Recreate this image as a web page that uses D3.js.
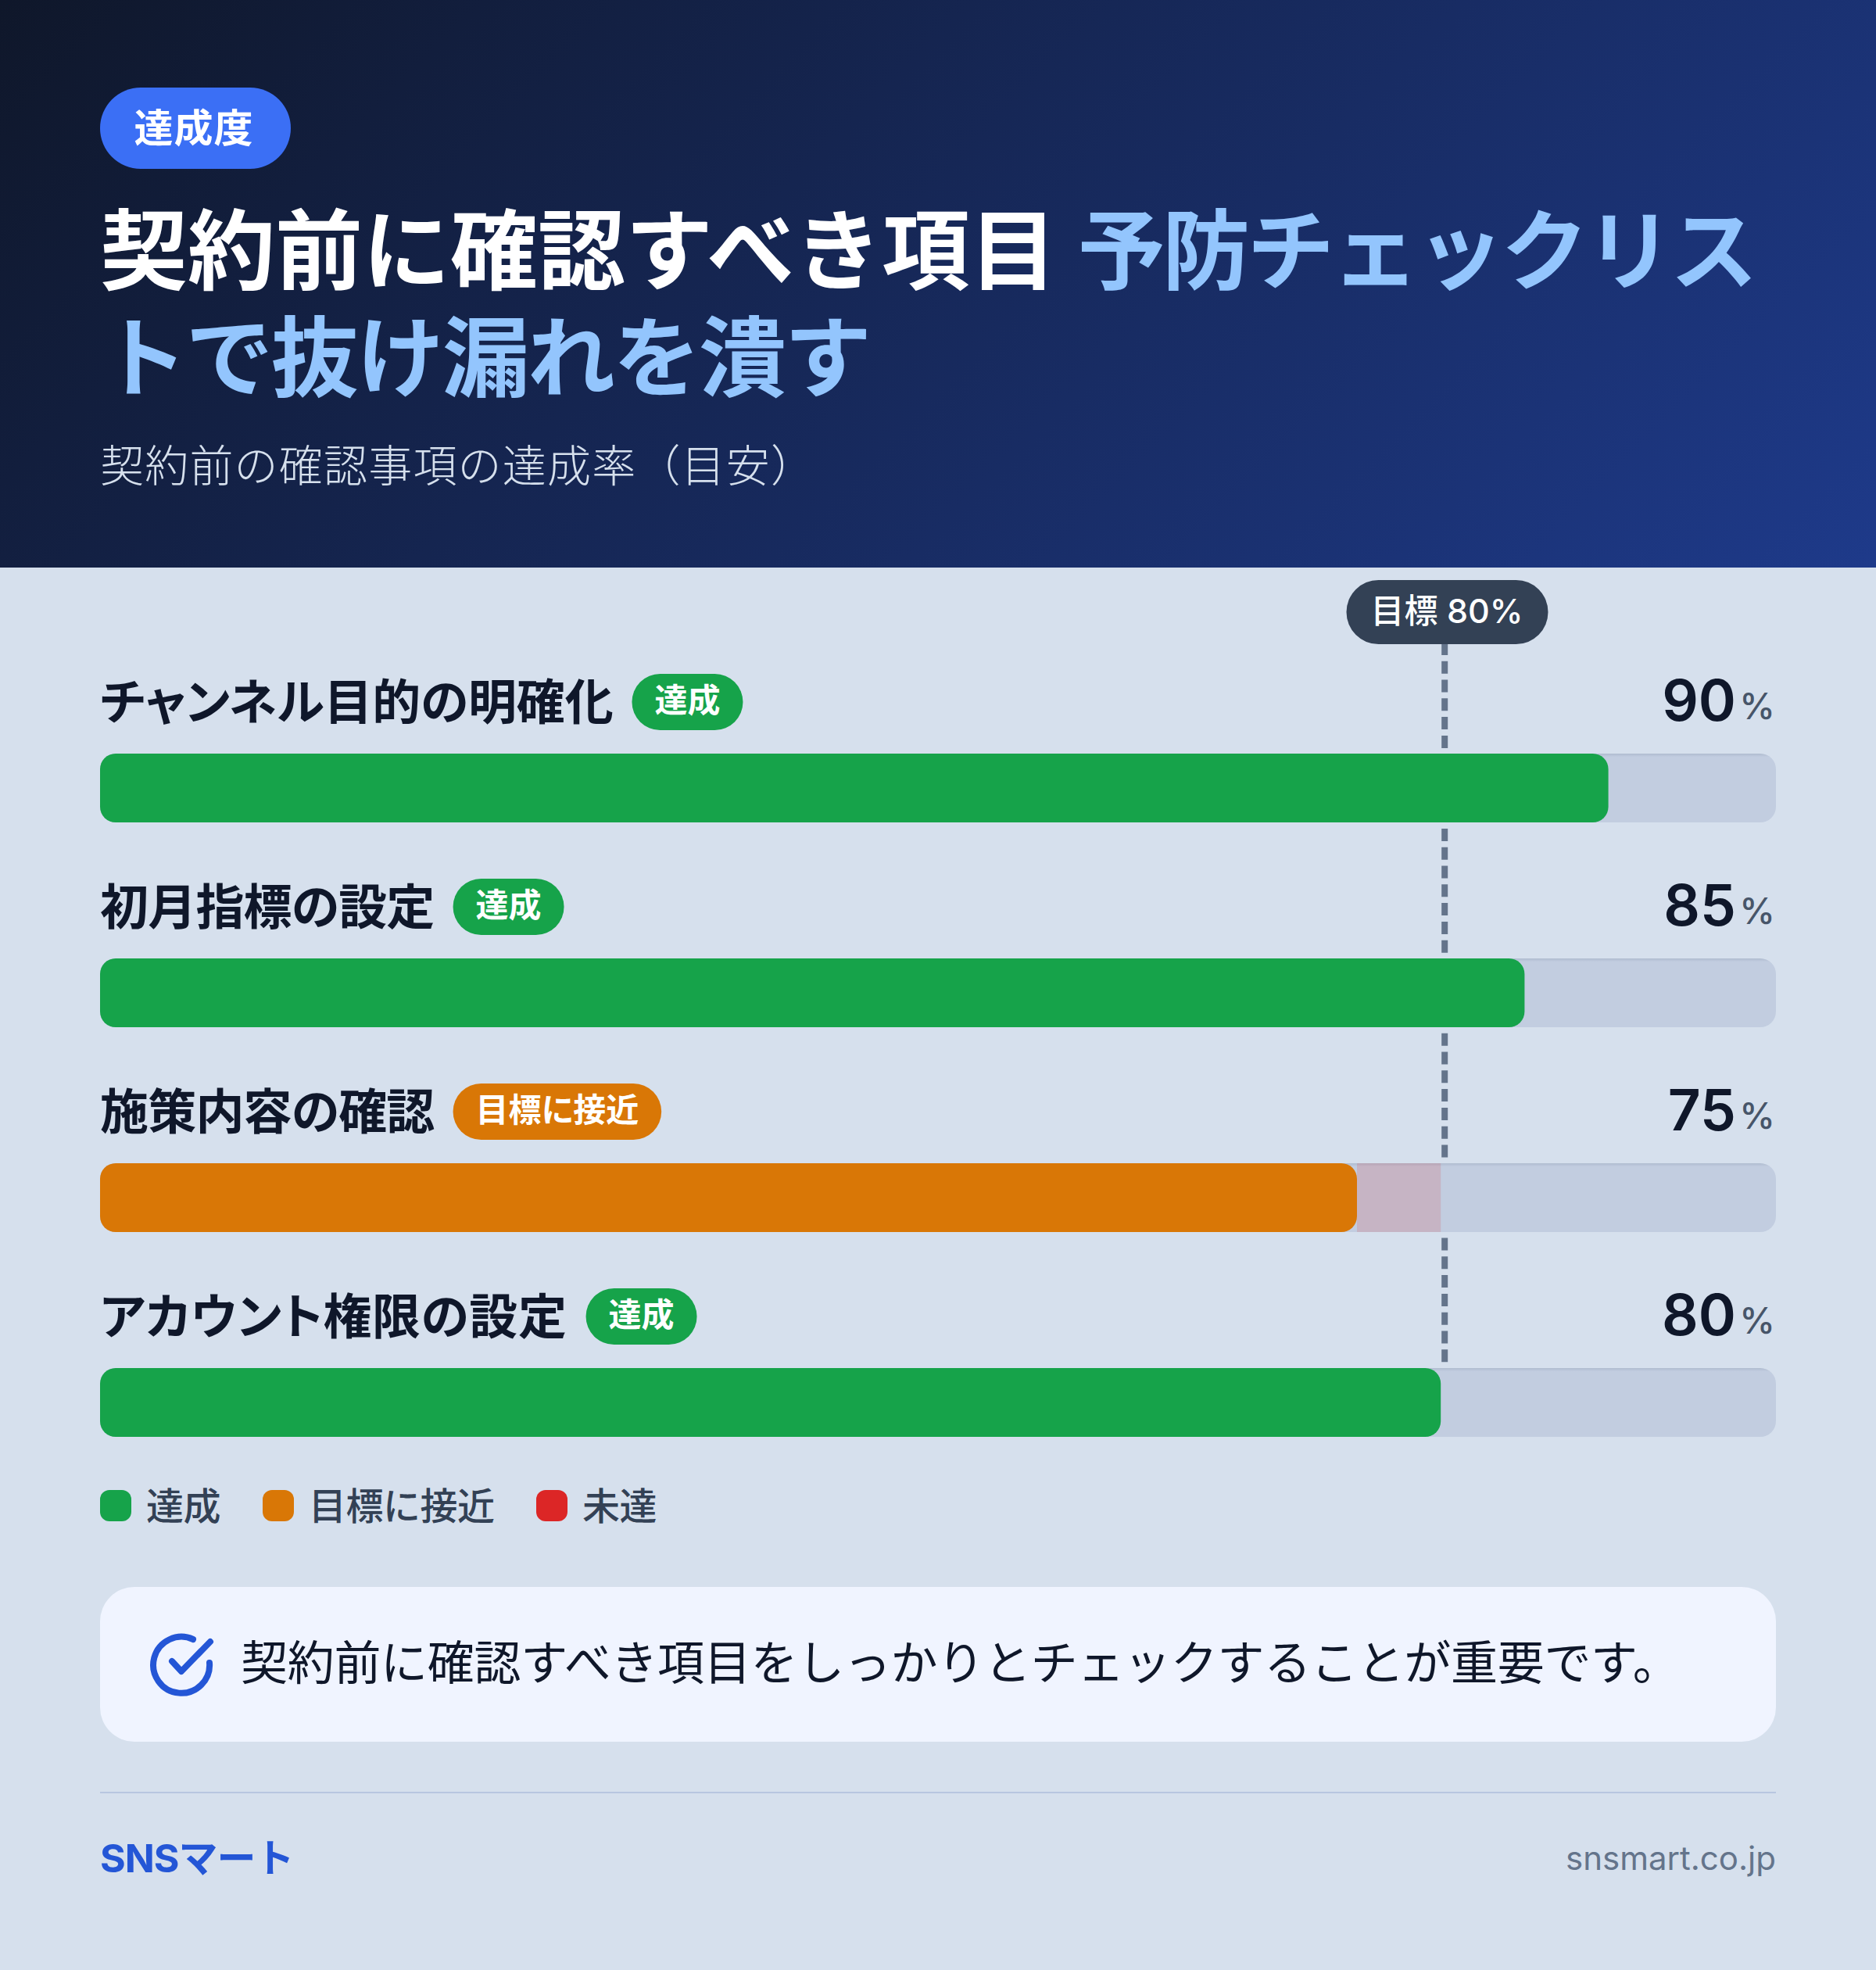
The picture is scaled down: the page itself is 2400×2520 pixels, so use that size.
<!DOCTYPE html>
<html lang="ja">
<head>
  <meta charset="UTF-8" />
  <title>契約前に確認すべき項目</title>
  <style>
    html, body { margin: 0; padding: 0; background: #d6e0ed; }
    svg { display: block; }
    text { font-family: Inter, "Noto Sans CJK JP", sans-serif; }
    .palt { font-feature-settings: 'palt'; }
  </style>
</head>
<body>
  <div id="chart"></div>

  <script src="https://d3js.org/d3.v7.min.js"></script>
  <script>
    const categories = ['チャンネル目的の明確化', '初月指標の設定', '施策内容の確認', 'アカウント権限の設定'];
    const values = [90, 85, 75, 80];
    const statuses = ['達成', '達成', '目標に接近', '達成'];
    const legendLabels = ['達成', '目標に接近', '未達'];
    const legendColors = ['#16a34a', '#d97706', '#dc2626'];
    const target = 80;

    const width = 2400;
    const height = 2520;
    const statusColor = d3.scaleOrdinal().domain(legendLabels).range(legendColors);
    const x = d3.scaleLinear().domain([0, 100]).range([128, 2272]);
    const y = d3.scaleBand().domain(categories).range([964, 2012]).paddingInner(0).paddingOuter(0).align(0);
    const barH = 88;
    const labelSpacing = [-0.2, -0.8, -0.8, 0.6]; // 行ラベルの字間調整

    const svg = d3.select('#chart').append('svg').attr('width', width).attr('height', height);
    const defs = svg.append('defs');

    // ヘッダーの背景 (CSS 135deg 相当)
    const grad = defs.append('linearGradient').attr('id', 'head')
      .attr('gradientUnits', 'userSpaceOnUse')
      .attr('x1', 419).attr('y1', -419).attr('x2', 1981).attr('y2', 1144);
    grad.append('stop').attr('offset', 0).attr('stop-color', '#0f172a');
    grad.append('stop').attr('offset', 1).attr('stop-color', '#1e3a8a');

    // トラック上端の内側の影
    const trackGrad = defs.append('linearGradient').attr('id', 'track').attr('x1', 0).attr('y1', 0).attr('x2', 0).attr('y2', 1);
    trackGrad.append('stop').attr('offset', 0).attr('stop-color', '#b0bcd0');
    trackGrad.append('stop').attr('offset', 0.05).attr('stop-color', '#c2cde0');

    svg.append('rect').attr('width', width).attr('height', height).attr('fill', '#d6e0ed');
    svg.append('rect').attr('width', width).attr('height', 726).attr('fill', 'url(#head)');

    // ヘッダー
    svg.append('rect').attr('x', 128).attr('y', 112).attr('width', 244).attr('height', 104)
      .attr('rx', 52).attr('fill', '#3b6ff5');
    svg.append('text').attr('x', 248).attr('y', 182).attr('text-anchor', 'middle')
      .attr('font-size', 50).attr('font-weight', 700).attr('letter-spacing', 1).attr('fill', '#fff').text('達成度');

    const title1 = svg.append('text').attr('x', 128).attr('y', 362)
      .attr('font-size', 112).attr('font-weight', 700);
    title1.append('tspan').attr('fill', '#fff').text('契約前に確認すべき項目 ');
    title1.append('tspan').attr('fill', '#93c5fd').attr('letter-spacing', -3.7).text('予防チェックリス');
    svg.append('text').attr('x', 128).attr('y', 499)
      .attr('font-size', 112).attr('font-weight', 700).attr('letter-spacing', -2.6)
      .attr('fill', '#93c5fd').text('トで抜け漏れを潰す');
    svg.append('text').attr('x', 128).attr('y', 616)
      .attr('font-size', 56).attr('font-weight', 300).attr('letter-spacing', 1.2).attr('fill', '#d6e0ed')
      .text('契約前の確認事項の達成率（目安）');

    // 目標ライン
    svg.append('line').attr('x1', x(target) + 5).attr('x2', x(target) + 5)
      .attr('y1', 798.1).attr('y2', 1750)
      .attr('stroke', '#64748b').attr('stroke-width', 8).attr('stroke-dasharray', '16 7.8');
    svg.append('rect').attr('x', 1722.5).attr('y', 742).attr('width', 258).attr('height', 82)
      .attr('rx', 41).attr('fill', '#334155');
    svg.append('text').attr('x', 1851).attr('y', 797).attr('text-anchor', 'middle')
      .attr('font-size', 43).attr('font-weight', 500).attr('fill', '#fff').text(`目標 ${target}%`);

    // 行
    const rows = svg.selectAll('g.row').data(categories).enter().append('g').attr('class', 'row');
    rows.append('rect').attr('x', x(0)).attr('y', d => y(d))
      .attr('width', x(100) - x(0)).attr('height', barH).attr('rx', 20)
      .attr('fill', 'url(#track)');
    rows.filter((d, i) => values[i] < target).append('rect')
      .attr('x', d => x(values[categories.indexOf(d)]))
      .attr('y', d => y(d))
      .attr('width', d => x(target) - x(values[categories.indexOf(d)]))
      .attr('height', barH)
      .attr('fill', '#dc2626').attr('fill-opacity', 0.15);
    rows.append('rect').attr('x', x(0)).attr('y', d => y(d))
      .attr('width', (d, i) => x(values[i]) - x(0)).attr('height', barH).attr('rx', 20)
      .attr('fill', (d, i) => statusColor(statuses[i]));

    const labels = rows.append('text').attr('class', 'palt').attr('x', 128).attr('y', d => y(d) - 43)
      .attr('font-size', 62).attr('font-weight', 700).attr('letter-spacing', (d, i) => labelSpacing[i])
      .attr('fill', '#0f172a').text(d => d);

    rows.each(function (d, i) {
      const g = d3.select(this);
      const lw = labels.nodes()[i].getComputedTextLength();
      const px = 128 + lw + 24;
      const t = g.append('text').attr('class', 'palt').attr('x', px + 29).attr('y', y(d) - 53)
        .attr('font-size', 42).attr('font-weight', 700).attr('fill', '#fff').text(statuses[i]);
      const tw = t.node().getComputedTextLength();
      g.insert('rect', 'text:last-child').attr('x', px).attr('y', y(d) - 102)
        .attr('width', tw + 58).attr('height', 72).attr('rx', 36)
        .attr('fill', statusColor(statuses[i]));
    });

    rows.append('text').attr('x', 2271).attr('y', d => y(d) - 44).attr('text-anchor', 'end')
      .attr('font-size', 46).attr('font-weight', 500).attr('fill', '#475569').text('%');
    rows.append('text').attr('x', 2221).attr('y', d => y(d) - 42).attr('text-anchor', 'end')
      .attr('font-size', 73).attr('font-weight', 600).attr('fill', '#0f172a').text((d, i) => values[i]);

    // 凡例
    const legendX = [128, 336, 686];
    const legend = svg.selectAll('g.legend').data(legendLabels).enter().append('g').attr('class', 'legend')
      .attr('transform', (d, i) => `translate(${legendX[i]},0)`);
    legend.append('rect').attr('y', 1906).attr('width', 40).attr('height', 40).attr('rx', 12)
      .attr('fill', (d, i) => legendColors[i]);
    legend.append('text').attr('x', 59).attr('y', 1944).attr('font-size', 48).attr('font-weight', 500)
      .attr('letter-spacing', -0.5).attr('fill', '#334155').text(d => d);

    // まとめ
    svg.append('rect').attr('x', 128).attr('y', 2030).attr('width', 2144).attr('height', 198)
      .attr('rx', 44).attr('fill', '#f0f4ff');
    const icon = svg.append('g').attr('fill', 'none').attr('stroke', '#2456d6').attr('stroke-width', 8)
      .attr('stroke-linecap', 'round').attr('stroke-linejoin', 'round');
    icon.append('path').attr('d', 'M 268 2127 A 36 36 0 1 1 247 2097');
    icon.append('path').attr('d', 'M 220 2125 L 232 2138 L 269 2100');
    svg.append('text').attr('x', 308).attr('y', 2149).attr('font-size', 60).attr('letter-spacing', -0.3)
      .attr('fill', '#0f172a')
      .text('契約前に確認すべき項目をしっかりとチェックすることが重要です。');

    // フッター
    svg.append('line').attr('x1', 128).attr('x2', 2272).attr('y1', 2293).attr('y2', 2293)
      .attr('stroke', '#b8c6e0').attr('stroke-width', 2);
    svg.append('text').attr('x', 128).attr('y', 2395).attr('font-size', 50).attr('font-weight', 700)
      .attr('letter-spacing', -1).attr('fill', '#2456d6').text('SNSマート');
    svg.append('text').attr('x', 2272).attr('y', 2392).attr('text-anchor', 'end').attr('font-size', 42)
      .attr('fill', '#64748b').text('snsmart.co.jp');
  </script>
</body>
</html>
